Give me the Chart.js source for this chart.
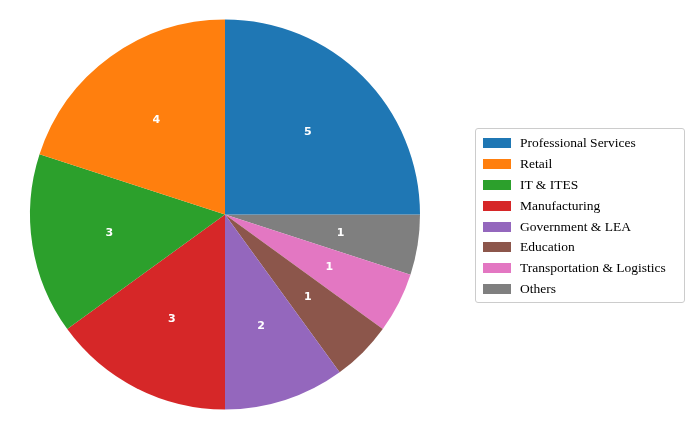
<!DOCTYPE html>
<html><head><meta charset="utf-8">
<script src="https://cdn.jsdelivr.net/npm/chart.js@4"></script>
<style>
body{margin:0;background:#fff;width:700px;height:433px;overflow:hidden;position:relative}
#lg{position:absolute;left:475px;top:128px;width:210px;border:1px solid #ccc;border-radius:3px;padding:4px 0 3px 0;font-family:"Liberation Serif",serif;font-size:13.5px;color:#000;box-sizing:border-box}
#lg div{height:20.8px;display:flex;align-items:center}
#lg span.b{display:inline-block;width:28px;height:10px;margin:0 9px 0 7px}
</style></head><body>
<canvas id="c" width="700" height="433"></canvas>
<div id="lg"></div>
<script>
const categories=["Professional Services","Retail","IT & ITES","Manufacturing","Government & LEA","Education","Transportation & Logistics","Others"];
const values=[5,4,3,3,2,1,1,1];
const colors=["#1f77b4","#ff7f0e","#2ca02c","#d62728","#9467bd","#8c564b","#e377c2","#7f7f7f"];
const lg=document.getElementById('lg');
categories.forEach((c,i)=>{const d=document.createElement('div');d.innerHTML='<span class="b" style="background:'+colors[i]+'"></span>'+c.replace('&','&amp;');lg.appendChild(d);});
const rl=categories.slice().reverse(), rv=values.slice().reverse(), rc=colors.slice().reverse();
const lbl={id:'lbl',afterDatasetsDraw(ch){const ctx=ch.ctx;ch.getDatasetMeta(0).data.forEach((a,i)=>{const m=(a.startAngle+a.endAngle)/2,r=a.outerRadius*0.6;ctx.save();ctx.fillStyle='#fff';ctx.font='bold 11px "DejaVu Sans"';ctx.textAlign='center';ctx.textBaseline='middle';ctx.fillText(String(rv[i]),a.x+r*Math.cos(m),a.y+r*Math.sin(m));ctx.restore();});}};
new Chart(document.getElementById('c'),{type:'pie',data:{labels:rl,datasets:[{data:rv,backgroundColor:rc,borderWidth:0}]},
options:{responsive:false,animation:false,rotation:90,layout:{padding:{left:30,right:280,top:17,bottom:21}},plugins:{legend:{display:false},tooltip:{enabled:false}}},plugins:[lbl]});
</script></body></html>
